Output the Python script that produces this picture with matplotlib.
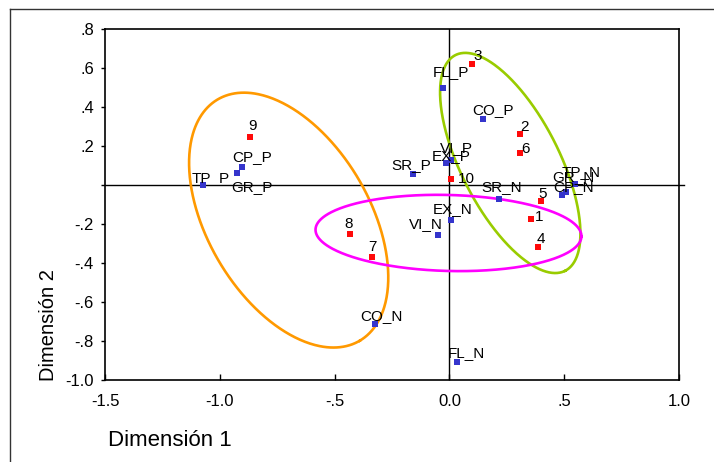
import numpy as np
import matplotlib
matplotlib.use("Agg")
import matplotlib.pyplot as plt
from matplotlib.lines import Line2D

plt.rcParams['font.family'] = ['Liberation Sans', 'DejaVu Sans']

# Object points (rows)
obj_labels = ['1', '2', '3', '4', '5', '6', '7', '8', '9', '10']
obj_x = [0.357, 0.309, 0.100, 0.387, 0.400, 0.309, -0.339, -0.435, -0.870, 0.009]
obj_y = [-0.174, 0.260, 0.620, -0.318, -0.082, 0.164, -0.370, -0.250, 0.246, 0.031]

# Category points (columns)
cat_labels = ['FL_P', 'CO_P', 'VI_P', 'EX_P', 'SR_P', 'CP_P', 'GR_P', 'TP_P',
              'SR_N', 'TP_N', 'GR_N', 'CP_N', 'EX_N', 'VI_N', 'CO_N', 'FL_N']
cat_x = [-0.030, 0.148, 0.009, -0.013, -0.160, -0.904, -0.926, -1.074,
         0.217, 0.548, 0.509, 0.491, 0.009, -0.048, -0.326, 0.035]
cat_y = [0.500, 0.340, 0.128, 0.113, 0.056, 0.092, 0.062, 0.000,
         -0.072, 0.005, -0.036, -0.051, -0.180, -0.256, -0.713, -0.908]

# Axis ticks
x_ticks = [-1.5, -1.0, -0.5, 0.0, 0.5, 1.0]
x_tick_labels = ['-1.5', '-1.0', '-.5', '0.0', '.5', '1.0']
y_ticks = [0.8, 0.6, 0.4, 0.2, 0.0, -0.2, -0.4, -0.6, -0.8, -1.0]
y_tick_labels = ['.8', '.6', '.4', '.2', '', '-.2', '-.4', '-.6', '-.8', '-1.0']

# Label placement (pixel offsets from each point: right, up)
obj_offsets = {'1': (8, 2), '2': (4, 7), '3': (5, 8), '4': (3, 8), '5': (1, 7),
               '6': (5, 4), '7': (1, 10), '8': (-1, 10), '9': (3, 11), '10': (15, 0)}
cat_offsets = {'FL_P': (8, 15), 'CO_P': (10, 9), 'VI_P': (5, 12), 'EX_P': (5, 7),
               'SR_P': (-1, 9), 'CP_P': (10, 10), 'GR_P': (15, -14), 'TP_P': (8, 7),
               'SR_N': (2, 12), 'TP_N': (6, 12), 'GR_N': (7, 15), 'CP_N': (11, 8),
               'EX_N': (1, 11), 'VI_N': (-13, 11), 'CO_N': (7, 8), 'FL_N': (9, 9)}

# Group outlines: centre (data units), semi-axes (pixels), angle (deg), colour
groups = [
    ((-0.70, -0.18), 140, 81, -59.5, '#FF9900'),
    ((0.265, 0.113), 121, 49, -63.0, '#99CC00'),
    ((-0.004, -0.246), 133, 38, -1.5, '#FF00FF'),
]

W, H = 714, 462
fig = plt.figure(figsize=(W / 100, H / 100), dpi=100)
ax = fig.add_axes([105 / W, 1 - 380 / H, (679 - 105) / W, (380 - 29) / H])
ax.set_xlim(-1.5, 1.0)
ax.set_ylim(-1.0, 0.8)

for s in ax.spines.values():
    s.set_linewidth(1.2)

ax.set_xticks(x_ticks)
ax.set_xticklabels(x_tick_labels)
ax.set_yticks(y_ticks)
ax.set_yticklabels(y_tick_labels)
ax.tick_params(axis='x', direction='in', length=4, width=1, labelsize=12, pad=10)
ax.tick_params(axis='y', direction='out', length=3, width=1, labelsize=12, pad=5)

# Reference lines through the origin
ax.axhline(0, color='black', lw=1.0, xmax=1.008, clip_on=False, zorder=1)
ax.axvline(0, color='black', lw=1.0, zorder=1)


def draw_outline(center, a_px, b_px, angle, color):
    t = np.linspace(0, 2 * np.pi, 500)
    th = np.deg2rad(angle)
    cx, cy = ax.transData.transform(center)
    px = cx + a_px * np.cos(t) * np.cos(th) - b_px * np.sin(t) * np.sin(th)
    py = cy + a_px * np.cos(t) * np.sin(th) + b_px * np.sin(t) * np.cos(th)
    d = ax.transData.inverted().transform(np.column_stack([px, py]))
    ax.plot(d[:, 0], d[:, 1], color=color, lw=1.9, zorder=2)


for center, a_px, b_px, ang, col in groups:
    draw_outline(center, a_px, b_px, ang, col)

ax.scatter(cat_x, cat_y, marker='s', s=15, color='#3535CC', linewidths=0, zorder=3)
ax.scatter(obj_x, obj_y, marker='s', s=15, color='#FF0A0A', linewidths=0, zorder=3)

for lab, x, y in zip(cat_labels, cat_x, cat_y):
    ax.annotate(lab, (x, y), xytext=cat_offsets[lab], textcoords='offset pixels',
                ha='center', va='center', fontsize=11, zorder=4)
for lab, x, y in zip(obj_labels, obj_x, obj_y):
    ax.annotate(lab, (x, y), xytext=obj_offsets[lab], textcoords='offset pixels',
                ha='center', va='center', fontsize=11, zorder=4)

fig.text(108 / W, 1 - 441 / H, 'Dimensión 1', ha='left', va='center', fontsize=16)
fig.text(48 / W, 1 - 381 / H, 'Dimensión 2', ha='center', va='bottom',
         rotation=90, fontsize=14.5)

# Frame around the chart area
fig.add_artist(Line2D([10 / W, 10 / W], [0, 1 - 9 / H], transform=fig.transFigure,
                      color='#333333', lw=1.0))
fig.add_artist(Line2D([10 / W, 1], [1 - 9 / H, 1 - 9 / H], transform=fig.transFigure,
                      color='#333333', lw=1.0))

fig.savefig('out.png', dpi=100)
